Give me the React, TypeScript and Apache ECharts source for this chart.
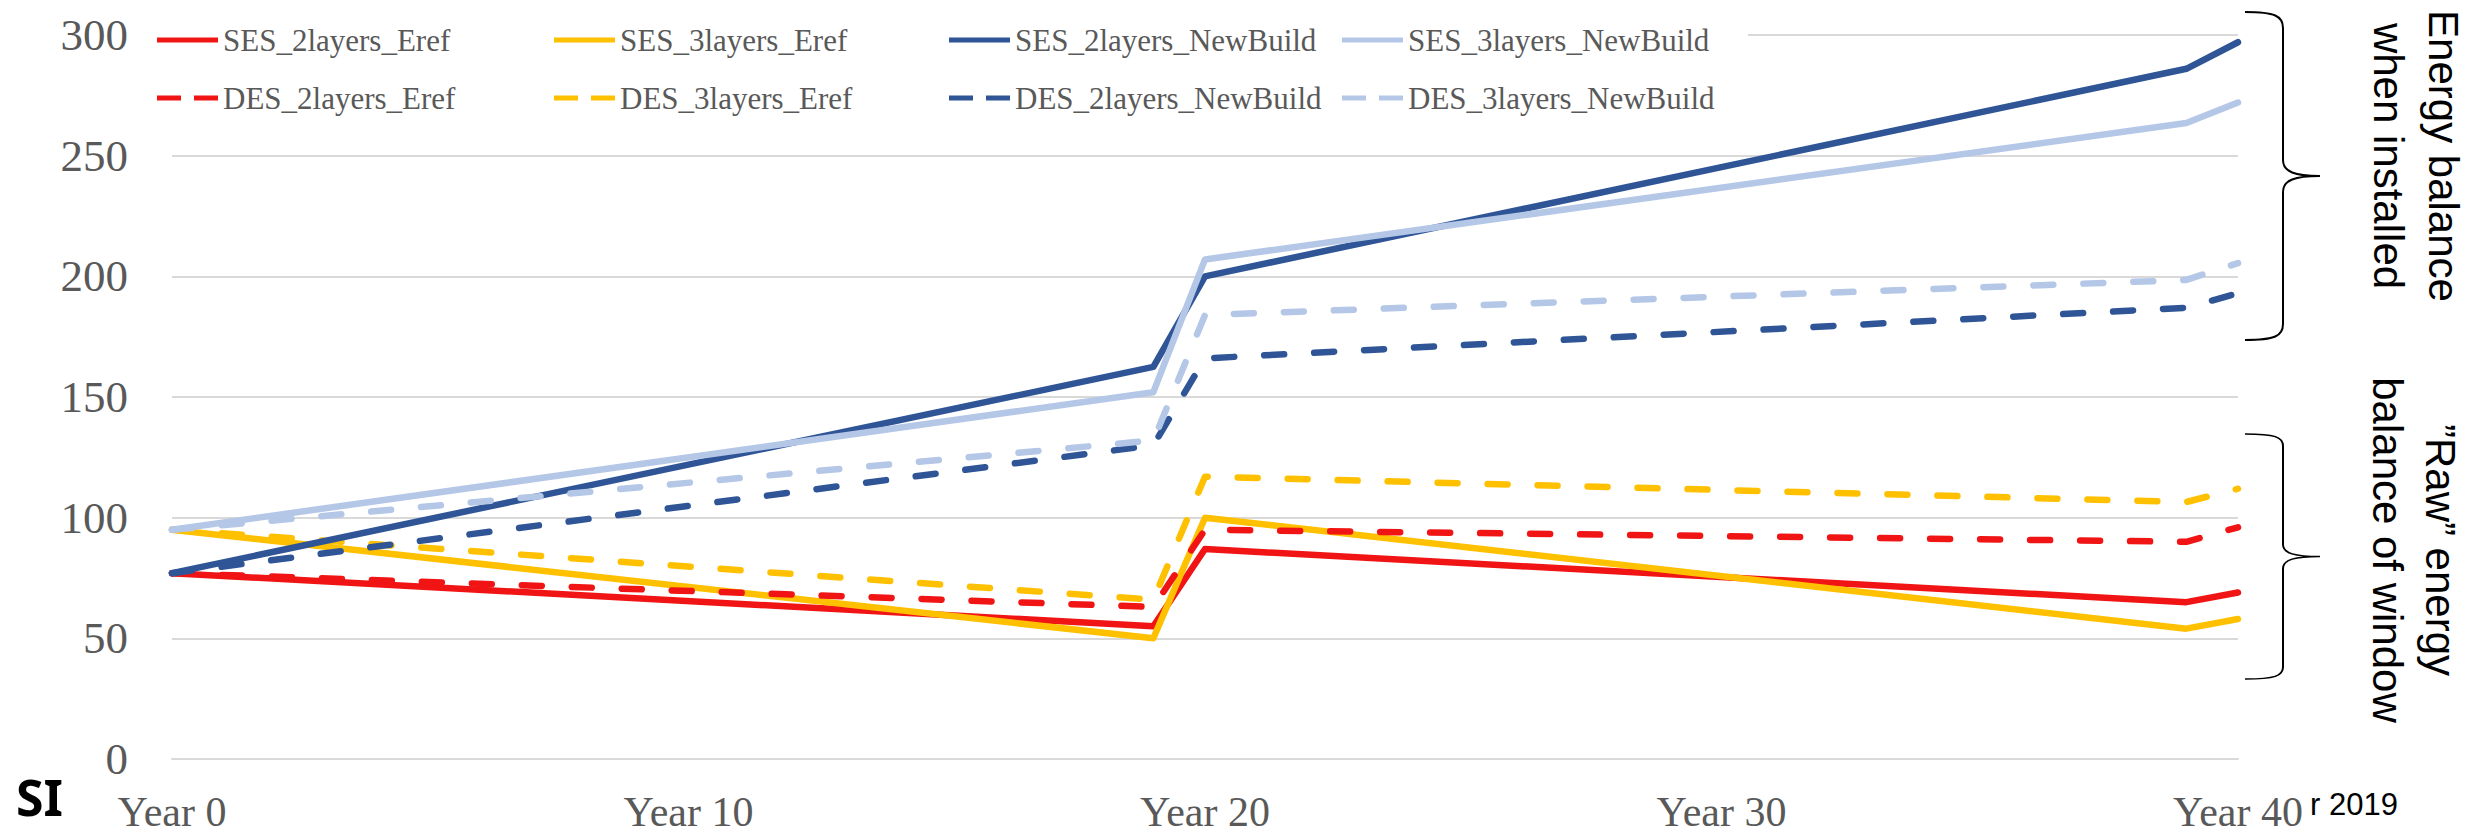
import React, { useEffect, useRef } from "react";
import * as echarts from "echarts";

// ---- data ----
const years = [0, 19, 20, 39, 40];
const xTickValues = [0, 10, 20, 30, 40];
const yTickValues = [0, 50, 100, 150, 200, 250, 300];

const SES_2layers_Eref = [77, 55, 87, 65, 69];
const SES_3layers_Eref = [95, 50, 100, 54, 58];
const DES_2layers_Eref = [77, 63, 95, 90, 96];
const DES_3layers_Eref = [95, 66, 117, 106.5, 112];
const SES_2layers_NewBuild = [77, 162.5, 200, 286, 297];
const SES_3layers_NewBuild = [95, 152, 207, 263.5, 272];
const DES_2layers_NewBuild = [77, 130, 166, 187, 193];
const DES_3layers_NewBuild = [95, 132, 184, 198.5, 205.5];

const annotationTop = ["Energy balance", "when installed"];
const annotationBottom = ["\u201dRaw\u201d energy", "balance of window"];
const footLeft = "SI";
const footRight = "r 2019";

// ---- styling ----
const RED = "#F01414";
const GOLD = "#FFC000";
const DARK = "#2F5597";
const LIGHT = "#B4C7E7";
const GRID = "#D9D9D9";
const LABEL = "#595959";
const SERIF = "'Liberation Serif', 'Times New Roman', serif";
const SANS = "'Liberation Sans', Arial, sans-serif";

const seriesDefs = [
  { name: "SES_2layers_Eref", values: SES_2layers_Eref, color: RED, dashed: false, col: 0, row: 0 },
  { name: "SES_3layers_Eref", values: SES_3layers_Eref, color: GOLD, dashed: false, col: 1, row: 0 },
  { name: "DES_2layers_Eref", values: DES_2layers_Eref, color: RED, dashed: true, col: 0, row: 1 },
  { name: "DES_3layers_Eref", values: DES_3layers_Eref, color: GOLD, dashed: true, col: 1, row: 1 },
  { name: "SES_2layers_NewBuild", values: SES_2layers_NewBuild, color: DARK, dashed: false, col: 2, row: 0 },
  { name: "DES_2layers_NewBuild", values: DES_2layers_NewBuild, color: DARK, dashed: true, col: 2, row: 1 },
  { name: "SES_3layers_NewBuild", values: SES_3layers_NewBuild, color: LIGHT, dashed: false, col: 3, row: 0 },
  { name: "DES_3layers_NewBuild", values: DES_3layers_NewBuild, color: LIGHT, dashed: true, col: 3, row: 1 },
];

const legendLefts = [157, 554, 949, 1342];
const legendTops = [24, 82];

const SOLID_ICON = "path://M0,0h61v5h-61z";
const DASH_ICON = "path://M0,0h24v5h-24zM37,0h24v5h-24z";

const BRACE_D =
  "M 0 0 C 30 0 38 4 38 16 L 38 148 C 38 160 50 164 75 164 C 50 164 38 168 38 180 L 38 312 C 38 324 30 328 0 328";

let braceRegistered = false;

export default function App() {
  const ref = useRef<HTMLDivElement>(null);

  useEffect(() => {
    if (!ref.current) return;
    if (!braceRegistered) {
      echarts.graphic.registerShape("brace", echarts.graphic.extendPath(BRACE_D, {}));
      braceRegistered = true;
    }
    const chart = echarts.init(ref.current, null, { renderer: "svg" });

    const series = seriesDefs.map((s) => ({
      type: "line",
      name: s.name,
      data: years.map((y, i) => [y, s.values[i]]),
      symbol: "none",
      lineStyle: {
        color: s.color,
        width: 6.5,
        type: s.dashed ? [20, 30] : "solid",
        cap: "round",
        join: "round",
      },
      itemStyle: { color: s.color },
      z: 3,
    }));

    const legends = seriesDefs.map((s) => ({
      data: [{ name: s.name, icon: s.dashed ? DASH_ICON : SOLID_ICON }],
      left: legendLefts[s.col],
      top: legendTops[s.row],
      padding: 0,
      itemWidth: 61,
      itemHeight: 5,
      itemGap: 0,
      selectedMode: false,
      itemStyle: { color: s.color, borderWidth: 0 },
      textStyle: {
        fontFamily: SERIF,
        fontSize: 31,
        color: LABEL,
        lineHeight: 32,
        padding: [0, 0, 0, 0],
      },
      z: 6,
    }));

    const textStyleFor = (t: string, size: number) => ({
      text: t,
      font: `${size}px ${SANS}`,
      fill: "#000",
      align: "center",
      verticalAlign: "middle",
    });

    const graphic: any[] = [
      // white box behind legend (hides 300 gridline under the legend)
      {
        type: "rect",
        shape: { x: 140, y: 12, width: 1608, height: 112 },
        style: { fill: "#ffffff" },
        z: 4,
        silent: true,
      },
      {
        type: "brace",
        x: 2245,
        y: 12,
        scaleX: 1,
        scaleY: 1,
        style: { fill: "none", stroke: "#000", lineWidth: 2, strokeNoScale: true },
        z: 10,
      },
      {
        type: "brace",
        x: 2245,
        y: 434,
        scaleX: 1,
        scaleY: 245 / 328,
        style: { fill: "none", stroke: "#000", lineWidth: 2, strokeNoScale: true },
        z: 10,
      },
      { type: "text", x: 2443, y: 156, rotation: -Math.PI / 2, style: textStyleFor(annotationTop[0], 42), z: 10 },
      { type: "text", x: 2388, y: 156, rotation: -Math.PI / 2, style: textStyleFor(annotationTop[1], 42), z: 10 },
      { type: "text", x: 2440, y: 550, rotation: -Math.PI / 2, style: textStyleFor(annotationBottom[0], 42), z: 10 },
      { type: "text", x: 2387, y: 550, rotation: -Math.PI / 2, style: textStyleFor(annotationBottom[1], 42), z: 10 },
      {
        type: "rect",
        shape: { x: 2307, y: 778, width: 161, height: 60 },
        style: { fill: "#ffffff" },
        z: 20,
      },
      {
        type: "text",
        x: 2310,
        y: 804,
        style: { text: footRight, font: `31px ${SANS}`, fill: "#000", align: "left", verticalAlign: "middle" },
        z: 21,
      },
      {
        type: "text",
        x: 16,
        y: 797,
        style: {
          text: footLeft,
          font: `bold 50px 'Noto Sans', 'Open Sans', sans-serif`,
          fill: "#000",
          align: "left",
          verticalAlign: "middle",
        },
        z: 21,
      },
    ];

    chart.setOption({
      animation: false,
      backgroundColor: "#ffffff",
      grid: { left: 172, right: 230, top: 35, bottom: 79, containLabel: false },
      legend: legends,
      xAxis: {
        type: "value",
        min: xTickValues[0],
        max: xTickValues[xTickValues.length - 1],
        interval: xTickValues[1] - xTickValues[0],
        axisLine: { show: true, lineStyle: { color: GRID, width: 2 } },
        axisTick: { show: false },
        splitLine: { show: false },
        axisLabel: {
          formatter: (v: number) => `Year ${v}`,
          fontFamily: SERIF,
          fontSize: 42,
          lineHeight: 42,
          color: LABEL,
          margin: 32,
          showMinLabel: true,
          showMaxLabel: true,
          hideOverlap: false,
        },
      },
      yAxis: {
        type: "value",
        min: yTickValues[0],
        max: yTickValues[yTickValues.length - 1],
        interval: yTickValues[1] - yTickValues[0],
        axisLine: { show: false },
        axisTick: { show: false },
        splitLine: { show: true, lineStyle: { color: GRID, width: 2 } },
        axisLabel: {
          fontFamily: SERIF,
          fontSize: 45,
          color: LABEL,
          margin: 44,
        },
      },
      graphic,
      series,
    });

    return () => {
      chart.dispose();
    };
  }, []);

  return (
    <div
      ref={ref}
      style={{ position: "absolute", left: 0, top: 0, width: 2468, height: 838, background: "#fff" }}
    />
  );
}
